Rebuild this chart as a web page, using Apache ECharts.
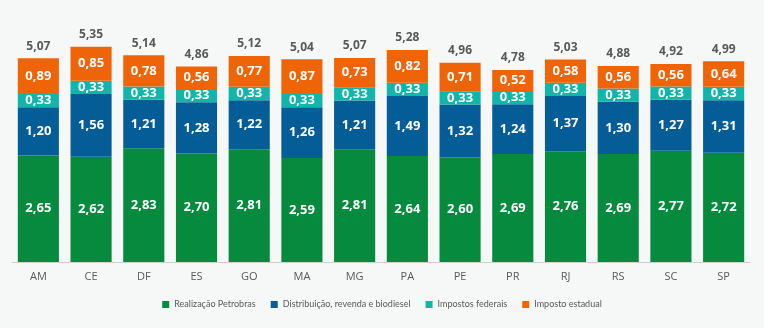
<!DOCTYPE html>
<html><head><meta charset="utf-8">
<script src="https://cdn.jsdelivr.net/npm/echarts@6/dist/echarts.min.js"></script>
<style>html,body{margin:0;padding:0;background:#f6f8f8;}#c{width:764px;height:328px;}</style>
</head><body><div id="c"></div>
<script>
const categories = ['AM','CE','DF','ES','GO','MA','MG','PA','PE','PR','RJ','RS','SC','SP'];
const realizacao = [2.65,2.62,2.83,2.70,2.81,2.59,2.81,2.64,2.60,2.69,2.76,2.69,2.77,2.72];
const distribuicao = [1.20,1.56,1.21,1.28,1.22,1.26,1.21,1.49,1.32,1.24,1.37,1.30,1.27,1.31];
const federais = [0.33,0.33,0.33,0.33,0.33,0.33,0.33,0.33,0.33,0.33,0.33,0.33,0.33,0.33];
const estadual = [0.89,0.85,0.78,0.56,0.77,0.87,0.73,0.82,0.71,0.52,0.58,0.56,0.56,0.64];
const totais = [5.07,5.35,5.14,4.86,5.12,5.04,5.07,5.28,4.96,4.78,5.03,4.88,4.92,4.99];

const FONT = '"Open Sans", "DejaVu Sans", sans-serif';
const fmt = v => v.toFixed(2).replace('.', ',');
const inner = {show:true, position:'inside', color:'#ffffff', fontWeight:'bold', fontSize:13, fontFamily:FONT,
  formatter: p => fmt(p.value)};
function s(name, data, color){
  return {name, type:'bar', stack:'t', data, barWidth:'78%', itemStyle:{color}, label:inner};
}
const chart = echarts.init(document.getElementById('c'));
chart.setOption({
  backgroundColor:'#f6f8f8',
  animation:false,
  grid:{left:12, right:14, top:21, bottom:66},
  xAxis:{type:'category', data:categories, axisTick:{show:false},
    axisLine:{lineStyle:{color:'#d0d0d0'}},
    axisLabel:{color:'#595959', fontSize:11, fontFamily:FONT, margin:9}},
  yAxis:{type:'value', min:0, max:6, show:false, splitLine:{show:false}},
  legend:{bottom:14, left:'center', itemWidth:7, itemHeight:7, itemGap:15, icon:'rect',
    textStyle:{color:'#595959', fontSize:9, fontFamily:'Lato, "Open Sans", sans-serif'},
    data:['Realização Petrobras','Distribuição, revenda e biodiesel','Impostos federais','Imposto estadual']},
  series:[
    s('Realização Petrobras', realizacao, '#058a3e'),
    s('Distribuição, revenda e biodiesel', distribuicao, '#045d96'),
    s('Impostos federais', federais, '#12b5aa'),
    s('Imposto estadual', estadual, '#ef6406'),
    {name:'Total', type:'bar', stack:'t', data:categories.map(()=>0), barWidth:'78%',
     itemStyle:{color:'transparent'},
     label:{show:true, position:'top', distance:6, color:'#595959', fontWeight:'bold', fontSize:12, fontFamily:FONT,
       formatter: p => fmt(totais[p.dataIndex])}}
  ]
});
</script></body></html>
